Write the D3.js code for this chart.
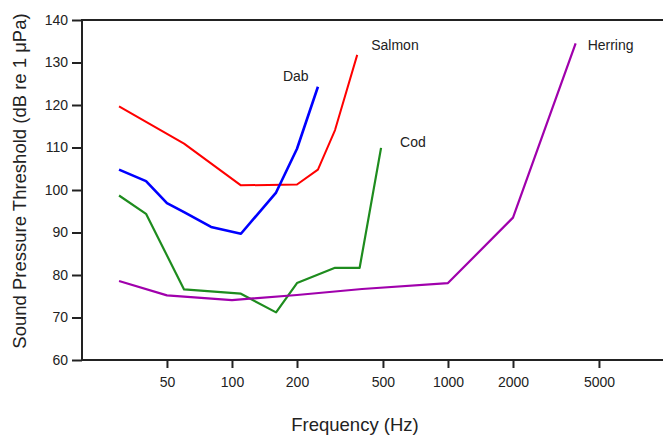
<!DOCTYPE html>
<html>
<head>
<meta charset="utf-8">
<script src="https://cdn.jsdelivr.net/npm/d3@7"></script>
<style>
    body { margin: 0; background: #fff; }
    svg { display: block; font-family: "Liberation Sans", Arial, sans-serif; }
</style>
</head>
<body>
<svg id="chart"></svg>
<script>
// frequencies (Hz) and thresholds (dB re 1 uPa)
const salmonFreq = [30, 60, 110, 200, 250, 300, 380];
const salmonDb = [119.7, 110.9, 101.1, 101.3, 104.8, 114.1, 131.8];

const dabFreq = [30, 40, 50, 60, 80, 110, 160, 200, 250];
const dabDb = [104.8, 102.1, 96.9, 94.8, 91.3, 89.7, 99.4, 109.7, 124.3];

const codFreq = [30, 40, 60, 110, 160, 200, 300, 390, 490];
const codDb = [98.7, 94.4, 76.6, 75.6, 71.2, 78.1, 81.7, 81.7, 109.9];

const herringFreq = [30, 50, 100, 200, 400, 1000, 2000, 3900];
const herringDb = [78.6, 75.2, 74.1, 75.3, 76.7, 78.1, 93.5, 134.5];

const xTicks = [50, 100, 200, 500, 1000, 2000, 5000];
const yTicks = [60, 70, 80, 90, 100, 110, 120, 130, 140];

const species = ["Salmon", "Dab", "Cod", "Herring"];
const colors = ["#ff0000", "#0000ff", "#1e8c1e", "#a000ac"];
const widths = [2, 2.6, 2.2, 2.2];
// label offset from the last point of each line
const labelDx = [14, -35, 19, 12];
const labelDy = [-5, -6, -1, 7];

const series = [
    {freq: salmonFreq, db: salmonDb},
    {freq: dabFreq, db: dabDb},
    {freq: codFreq, db: codDb},
    {freq: herringFreq, db: herringDb}
];

const width = 663, height = 436;
const margin = {top: 20, right: 0, bottom: 76, left: 82};

const svg = d3.select("#chart")
    .attr("width", width)
    .attr("height", height);

const x = d3.scaleLog()
    .domain([20, 10000])
    .range([margin.left - 1, margin.left - 1 + 216 * Math.log10(500)]);

const y = d3.scaleLinear()
    .domain([60, 140])
    .range([height - margin.bottom, margin.top]);

const axisColor = "#222";

// frame: left, bottom and top lines
svg.append("path")
    .attr("d", `M${width},${y(140)}H${margin.left}V${y(60)}H${width}`)
    .attr("fill", "none")
    .attr("stroke", axisColor)
    .attr("stroke-width", 2);

// y axis
const yAxis = svg.append("g")
    .attr("transform", `translate(${margin.left},0)`)
    .call(d3.axisLeft(y).tickValues(yTicks).tickSize(10).tickPadding(4).tickFormat(d3.format("d")));
yAxis.select(".domain").remove();
yAxis.selectAll(".tick line").attr("stroke", axisColor).attr("stroke-width", 2);
yAxis.selectAll(".tick text").attr("font-size", 14).attr("fill", "#222")
    .attr("font-family", "Liberation Sans, Arial, sans-serif");

// x axis
const xAxis = svg.append("g")
    .attr("transform", `translate(0,${y(60)})`)
    .call(d3.axisBottom(x).tickValues(xTicks).tickSize(8).tickPadding(9).tickFormat(d3.format("d")));
xAxis.select(".domain").remove();
xAxis.selectAll(".tick line").attr("stroke", axisColor).attr("stroke-width", 2);
xAxis.selectAll(".tick text").attr("font-size", 14).attr("fill", "#222")
    .attr("font-family", "Liberation Sans, Arial, sans-serif");

// axis titles
svg.append("text")
    .attr("x", 355)
    .attr("y", 431)
    .attr("text-anchor", "middle")
    .attr("font-size", 18.5)
    .attr("fill", "#222")
    .text("Frequency (Hz)");

svg.append("text")
    .attr("transform", "translate(26,181) rotate(-90)")
    .attr("text-anchor", "middle")
    .attr("font-size", 18.5)
    .attr("fill", "#222")
    .text("Sound Pressure Threshold (dB re 1 μPa)");

const line = d3.line()
    .x(d => x(d[0]))
    .y(d => y(d[1]));

series.forEach((s, i) => {
    const pts = s.freq.map((f, j) => [f, s.db[j]]);
    svg.append("path")
        .datum(pts)
        .attr("d", line)
        .attr("fill", "none")
        .attr("stroke", colors[i])
        .attr("stroke-width", widths[i])
        .attr("stroke-linejoin", "round");

    const last = pts[pts.length - 1];
    svg.append("text")
        .attr("x", x(last[0]) + labelDx[i])
        .attr("y", y(last[1]) + labelDy[i])
        .attr("font-size", 14)
        .attr("fill", "#222")
        .text(species[i]);
});
</script>
</body>
</html>
